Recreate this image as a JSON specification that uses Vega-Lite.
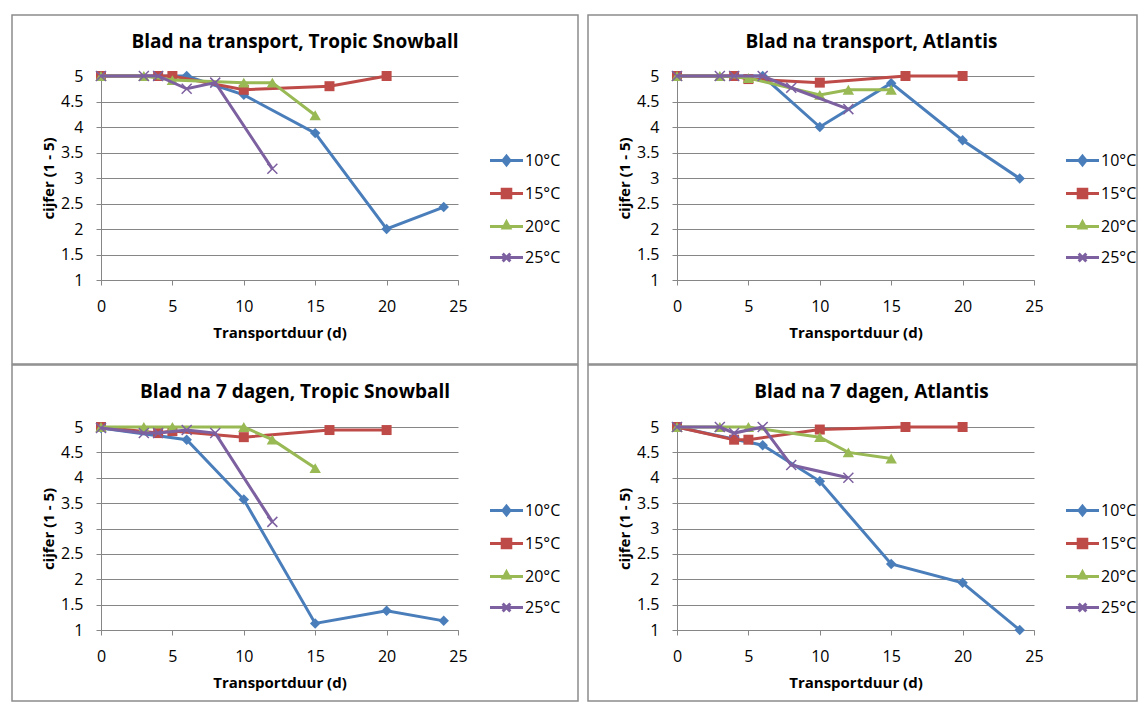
{
  "$schema": "https://vega.github.io/schema/vega-lite/v6.json",
  "background": "white",
  "padding": {"left": 11, "top": 14, "right": 0, "bottom": 0},
  "datasets": {
    "p1": [
      {"t": 0, "c": 5, "serie": "10°C"}, {"t": 6, "c": 5, "serie": "10°C"}, {"t": 10, "c": 4.63, "serie": "10°C"}, {"t": 15, "c": 3.88, "serie": "10°C"}, {"t": 20, "c": 2.0, "serie": "10°C"}, {"t": 24, "c": 2.43, "serie": "10°C"},
      {"t": 0, "c": 5, "serie": "15°C"}, {"t": 4, "c": 5, "serie": "15°C"}, {"t": 5, "c": 5, "serie": "15°C"}, {"t": 10, "c": 4.73, "serie": "15°C"}, {"t": 16, "c": 4.8, "serie": "15°C"}, {"t": 20, "c": 5, "serie": "15°C"},
      {"t": 0, "c": 5, "serie": "20°C"}, {"t": 3, "c": 5, "serie": "20°C"}, {"t": 5, "c": 4.92, "serie": "20°C"}, {"t": 10, "c": 4.87, "serie": "20°C"}, {"t": 12, "c": 4.87, "serie": "20°C"}, {"t": 15, "c": 4.23, "serie": "20°C"},
      {"t": 0, "c": 5, "serie": "25°C"}, {"t": 3, "c": 5, "serie": "25°C"}, {"t": 4, "c": 5, "serie": "25°C"}, {"t": 6, "c": 4.75, "serie": "25°C"}, {"t": 8, "c": 4.87, "serie": "25°C"}, {"t": 12, "c": 3.18, "serie": "25°C"}
    ],
    "p2": [
      {"t": 0, "c": 5, "serie": "10°C"}, {"t": 6, "c": 5, "serie": "10°C"}, {"t": 10, "c": 4.0, "serie": "10°C"}, {"t": 15, "c": 4.86, "serie": "10°C"}, {"t": 20, "c": 3.74, "serie": "10°C"}, {"t": 24, "c": 2.99, "serie": "10°C"},
      {"t": 0, "c": 5, "serie": "15°C"}, {"t": 4, "c": 5, "serie": "15°C"}, {"t": 5, "c": 4.94, "serie": "15°C"}, {"t": 10, "c": 4.87, "serie": "15°C"}, {"t": 16, "c": 5, "serie": "15°C"}, {"t": 20, "c": 5, "serie": "15°C"},
      {"t": 0, "c": 5, "serie": "20°C"}, {"t": 3, "c": 5, "serie": "20°C"}, {"t": 5, "c": 4.96, "serie": "20°C"}, {"t": 10, "c": 4.63, "serie": "20°C"}, {"t": 12, "c": 4.73, "serie": "20°C"}, {"t": 15, "c": 4.73, "serie": "20°C"},
      {"t": 0, "c": 5, "serie": "25°C"}, {"t": 3, "c": 5, "serie": "25°C"}, {"t": 4, "c": 5, "serie": "25°C"}, {"t": 6, "c": 5, "serie": "25°C"}, {"t": 8, "c": 4.77, "serie": "25°C"}, {"t": 12, "c": 4.35, "serie": "25°C"}
    ],
    "p3": [
      {"t": 0, "c": 4.98, "serie": "10°C"}, {"t": 6, "c": 4.75, "serie": "10°C"}, {"t": 10, "c": 3.57, "serie": "10°C"}, {"t": 15, "c": 1.13, "serie": "10°C"}, {"t": 20, "c": 1.38, "serie": "10°C"}, {"t": 24, "c": 1.18, "serie": "10°C"},
      {"t": 0, "c": 5, "serie": "15°C"}, {"t": 4, "c": 4.88, "serie": "15°C"}, {"t": 5, "c": 4.92, "serie": "15°C"}, {"t": 10, "c": 4.8, "serie": "15°C"}, {"t": 16, "c": 4.94, "serie": "15°C"}, {"t": 20, "c": 4.94, "serie": "15°C"},
      {"t": 0, "c": 5, "serie": "20°C"}, {"t": 3, "c": 5, "serie": "20°C"}, {"t": 5, "c": 5, "serie": "20°C"}, {"t": 10, "c": 5, "serie": "20°C"}, {"t": 12, "c": 4.75, "serie": "20°C"}, {"t": 15, "c": 4.19, "serie": "20°C"},
      {"t": 0, "c": 4.98, "serie": "25°C"}, {"t": 3, "c": 4.88, "serie": "25°C"}, {"t": 4, "c": 4.88, "serie": "25°C"}, {"t": 6, "c": 4.94, "serie": "25°C"}, {"t": 8, "c": 4.88, "serie": "25°C"}, {"t": 12, "c": 3.13, "serie": "25°C"}
    ],
    "p4": [
      {"t": 0, "c": 5, "serie": "10°C"}, {"t": 6, "c": 4.64, "serie": "10°C"}, {"t": 10, "c": 3.93, "serie": "10°C"}, {"t": 15, "c": 2.3, "serie": "10°C"}, {"t": 20, "c": 1.93, "serie": "10°C"}, {"t": 24, "c": 1.0, "serie": "10°C"},
      {"t": 0, "c": 5, "serie": "15°C"}, {"t": 4, "c": 4.75, "serie": "15°C"}, {"t": 5, "c": 4.75, "serie": "15°C"}, {"t": 10, "c": 4.95, "serie": "15°C"}, {"t": 16, "c": 5, "serie": "15°C"}, {"t": 20, "c": 5, "serie": "15°C"},
      {"t": 0, "c": 5, "serie": "20°C"}, {"t": 3, "c": 5, "serie": "20°C"}, {"t": 5, "c": 5, "serie": "20°C"}, {"t": 10, "c": 4.8, "serie": "20°C"}, {"t": 12, "c": 4.5, "serie": "20°C"}, {"t": 15, "c": 4.38, "serie": "20°C"},
      {"t": 0, "c": 5, "serie": "25°C"}, {"t": 3, "c": 5, "serie": "25°C"}, {"t": 4, "c": 4.88, "serie": "25°C"}, {"t": 6, "c": 5, "serie": "25°C"}, {"t": 8, "c": 4.25, "serie": "25°C"}, {"t": 12, "c": 4.0, "serie": "25°C"}
    ]
  },
  "columns": 2,
  "spacing": {"row": -1, "column": 8},
  "align": "each",
  "resolve": {
    "scale": {"fill": "independent", "stroke": "independent", "shape": "independent"},
    "legend": {"fill": "independent", "stroke": "independent", "shape": "independent"}
  },
  "concat": [
    {
      "width": 566, "height": 349,
      "title": {"text": "Blad na transport, Tropic Snowball"},
      "data": {"name": "p1"},
      "encoding": {
        "x": {"field": "t", "type": "quantitative", "scale": {"domain": [0, 25], "range": [89, 446], "nice": false, "zero": false},
          "axis": {"values": [0, 5, 10, 15, 20, 25], "grid": false, "offset": -84, "title": "Transportduur (d)", "titleX": 267.5, "titleY": 52, "titleBaseline": "middle", "titleAlign": "center"}},
        "y": {"field": "c", "type": "quantitative", "scale": {"domain": [1, 5], "range": [265, 61], "nice": false, "zero": false},
          "axis": {"values": [1, 1.5, 2, 2.5, 3, 3.5, 4, 4.5, 5], "format": "~g", "grid": true, "offset": -89, "title": "cijfer (1 - 5)", "titleX": -53, "titleY": 163, "titleAngle": -90, "titleBaseline": "middle", "titleAlign": "center"}}
      },
      "layer": [
        {"transform": [{"filter": {"field": "serie", "equal": "10°C"}}], "mark": {"type": "line", "color": "#4A7EBB", "strokeWidth": 3, "point": {"shape": "diamond", "size": 110, "filled": true, "color": "#4A7EBB", "opacity": 1}}},
        {"transform": [{"filter": {"field": "serie", "equal": "15°C"}}], "mark": {"type": "line", "color": "#BE4B48", "strokeWidth": 3, "point": {"shape": "square", "size": 100, "filled": true, "color": "#BE4B48", "opacity": 1}}},
        {"transform": [{"filter": {"field": "serie", "equal": "20°C"}}], "mark": {"type": "line", "color": "#98B954", "strokeWidth": 3, "point": {"shape": "triangle-up", "size": 130, "filled": true, "color": "#98B954", "opacity": 1}}},
        {"transform": [{"filter": {"field": "serie", "equal": "25°C"}}], "mark": {"type": "line", "color": "#7D60A0", "strokeWidth": 3, "point": {"shape": "M-1,-1L1,1M-1,1L1,-1", "size": 100, "filled": false, "strokeWidth": 1.5, "color": "#7D60A0", "opacity": 1}}},
        {"transform": [{"filter": "false"}], "mark": {"type": "point", "filled": true, "opacity": 1, "size": 484, "strokeWidth": 3},
          "encoding": {
            "fill": {"field": "serie", "type": "nominal", "scale": {"domain": ["10°C", "15°C", "20°C", "25°C"], "range": ["#4A7EBB", "#BE4B48", "#98B954", "#7D60A0"]}, "legend": {"title": null, "orient": "none", "legendX": 482, "legendY": 133}},
            "stroke": {"field": "serie", "type": "nominal", "scale": {"domain": ["10°C", "15°C", "20°C", "25°C"], "range": ["#4A7EBB", "#BE4B48", "#98B954", "#7D60A0"]}, "legend": {"title": null, "orient": "none", "legendX": 482, "legendY": 133}},
            "shape": {"field": "serie", "type": "nominal", "scale": {"domain": ["10°C", "15°C", "20°C", "25°C"], "range": ["M-1.5,0L1.5,0M0,-0.39L0.32,0L0,0.39L-0.32,0Z", "M-1.5,0L1.5,0M-0.39,-0.39L0.39,-0.39L0.39,0.39L-0.39,0.39Z", "M-1.5,0L1.5,0M0,-0.41L0.3,0.14L-0.3,0.14Z", "M-1.5,0L1.5,0M-0.35,-0.35L0.35,0.35M-0.35,0.35L0.35,-0.35"]}, "legend": {"title": null, "orient": "none", "legendX": 482, "legendY": 133}}
          }}
      ]
    },
    {
      "width": 549, "height": 349,
      "title": {"text": "Blad na transport, Atlantis", "dx": 9},
      "data": {"name": "p2"},
      "encoding": {
        "x": {"field": "t", "type": "quantitative", "scale": {"domain": [0, 25], "range": [89, 446], "nice": false, "zero": false},
          "axis": {"values": [0, 5, 10, 15, 20, 25], "grid": false, "offset": -84, "title": "Transportduur (d)", "titleX": 267.5, "titleY": 52, "titleBaseline": "middle", "titleAlign": "center"}},
        "y": {"field": "c", "type": "quantitative", "scale": {"domain": [1, 5], "range": [265, 61], "nice": false, "zero": false},
          "axis": {"values": [1, 1.5, 2, 2.5, 3, 3.5, 4, 4.5, 5], "format": "~g", "grid": true, "offset": -89, "title": "cijfer (1 - 5)", "titleX": -53, "titleY": 163, "titleAngle": -90, "titleBaseline": "middle", "titleAlign": "center"}}
      },
      "layer": [
        {"transform": [{"filter": {"field": "serie", "equal": "10°C"}}], "mark": {"type": "line", "color": "#4A7EBB", "strokeWidth": 3, "point": {"shape": "diamond", "size": 110, "filled": true, "color": "#4A7EBB", "opacity": 1}}},
        {"transform": [{"filter": {"field": "serie", "equal": "15°C"}}], "mark": {"type": "line", "color": "#BE4B48", "strokeWidth": 3, "point": {"shape": "square", "size": 100, "filled": true, "color": "#BE4B48", "opacity": 1}}},
        {"transform": [{"filter": {"field": "serie", "equal": "20°C"}}], "mark": {"type": "line", "color": "#98B954", "strokeWidth": 3, "point": {"shape": "triangle-up", "size": 130, "filled": true, "color": "#98B954", "opacity": 1}}},
        {"transform": [{"filter": {"field": "serie", "equal": "25°C"}}], "mark": {"type": "line", "color": "#7D60A0", "strokeWidth": 3, "point": {"shape": "M-1,-1L1,1M-1,1L1,-1", "size": 100, "filled": false, "strokeWidth": 1.5, "color": "#7D60A0", "opacity": 1}}},
        {"transform": [{"filter": "false"}], "mark": {"type": "point", "filled": true, "opacity": 1, "size": 484, "strokeWidth": 3},
          "encoding": {
            "fill": {"field": "serie", "type": "nominal", "scale": {"domain": ["10°C", "15°C", "20°C", "25°C"], "range": ["#4A7EBB", "#BE4B48", "#98B954", "#7D60A0"]}, "legend": {"title": null, "orient": "none", "legendX": 482, "legendY": 133}},
            "stroke": {"field": "serie", "type": "nominal", "scale": {"domain": ["10°C", "15°C", "20°C", "25°C"], "range": ["#4A7EBB", "#BE4B48", "#98B954", "#7D60A0"]}, "legend": {"title": null, "orient": "none", "legendX": 482, "legendY": 133}},
            "shape": {"field": "serie", "type": "nominal", "scale": {"domain": ["10°C", "15°C", "20°C", "25°C"], "range": ["M-1.5,0L1.5,0M0,-0.39L0.32,0L0,0.39L-0.32,0Z", "M-1.5,0L1.5,0M-0.39,-0.39L0.39,-0.39L0.39,0.39L-0.39,0.39Z", "M-1.5,0L1.5,0M0,-0.41L0.3,0.14L-0.3,0.14Z", "M-1.5,0L1.5,0M-0.35,-0.35L0.35,0.35M-0.35,0.35L0.35,-0.35"]}, "legend": {"title": null, "orient": "none", "legendX": 482, "legendY": 133}}
          }}
      ]
    },
    {
      "width": 566, "height": 336,
      "title": {"text": "Blad na 7 dagen, Tropic Snowball"},
      "data": {"name": "p3"},
      "encoding": {
        "x": {"field": "t", "type": "quantitative", "scale": {"domain": [0, 25], "range": [89, 446], "nice": false, "zero": false},
          "axis": {"values": [0, 5, 10, 15, 20, 25], "grid": false, "offset": -71, "title": "Transportduur (d)", "titleX": 267.5, "titleY": 52, "titleBaseline": "middle", "titleAlign": "center"}},
        "y": {"field": "c", "type": "quantitative", "scale": {"domain": [1, 5], "range": [265, 62], "nice": false, "zero": false},
          "axis": {"values": [1, 1.5, 2, 2.5, 3, 3.5, 4, 4.5, 5], "format": "~g", "grid": true, "offset": -89, "title": "cijfer (1 - 5)", "titleX": -53, "titleY": 163.5, "titleAngle": -90, "titleBaseline": "middle", "titleAlign": "center"}}
      },
      "layer": [
        {"transform": [{"filter": {"field": "serie", "equal": "10°C"}}], "mark": {"type": "line", "color": "#4A7EBB", "strokeWidth": 3, "point": {"shape": "diamond", "size": 110, "filled": true, "color": "#4A7EBB", "opacity": 1}}},
        {"transform": [{"filter": {"field": "serie", "equal": "15°C"}}], "mark": {"type": "line", "color": "#BE4B48", "strokeWidth": 3, "point": {"shape": "square", "size": 100, "filled": true, "color": "#BE4B48", "opacity": 1}}},
        {"transform": [{"filter": {"field": "serie", "equal": "20°C"}}], "mark": {"type": "line", "color": "#98B954", "strokeWidth": 3, "point": {"shape": "triangle-up", "size": 130, "filled": true, "color": "#98B954", "opacity": 1}}},
        {"transform": [{"filter": {"field": "serie", "equal": "25°C"}}], "mark": {"type": "line", "color": "#7D60A0", "strokeWidth": 3, "point": {"shape": "M-1,-1L1,1M-1,1L1,-1", "size": 100, "filled": false, "strokeWidth": 1.5, "color": "#7D60A0", "opacity": 1}}},
        {"transform": [{"filter": "false"}], "mark": {"type": "point", "filled": true, "opacity": 1, "size": 484, "strokeWidth": 3},
          "encoding": {
            "fill": {"field": "serie", "type": "nominal", "scale": {"domain": ["10°C", "15°C", "20°C", "25°C"], "range": ["#4A7EBB", "#BE4B48", "#98B954", "#7D60A0"]}, "legend": {"title": null, "orient": "none", "legendX": 482, "legendY": 133}},
            "stroke": {"field": "serie", "type": "nominal", "scale": {"domain": ["10°C", "15°C", "20°C", "25°C"], "range": ["#4A7EBB", "#BE4B48", "#98B954", "#7D60A0"]}, "legend": {"title": null, "orient": "none", "legendX": 482, "legendY": 133}},
            "shape": {"field": "serie", "type": "nominal", "scale": {"domain": ["10°C", "15°C", "20°C", "25°C"], "range": ["M-1.5,0L1.5,0M0,-0.39L0.32,0L0,0.39L-0.32,0Z", "M-1.5,0L1.5,0M-0.39,-0.39L0.39,-0.39L0.39,0.39L-0.39,0.39Z", "M-1.5,0L1.5,0M0,-0.41L0.3,0.14L-0.3,0.14Z", "M-1.5,0L1.5,0M-0.35,-0.35L0.35,0.35M-0.35,0.35L0.35,-0.35"]}, "legend": {"title": null, "orient": "none", "legendX": 482, "legendY": 133}}
          }}
      ]
    },
    {
      "width": 549, "height": 336,
      "title": {"text": "Blad na 7 dagen, Atlantis", "dx": 9},
      "data": {"name": "p4"},
      "encoding": {
        "x": {"field": "t", "type": "quantitative", "scale": {"domain": [0, 25], "range": [89, 446], "nice": false, "zero": false},
          "axis": {"values": [0, 5, 10, 15, 20, 25], "grid": false, "offset": -71, "title": "Transportduur (d)", "titleX": 267.5, "titleY": 52, "titleBaseline": "middle", "titleAlign": "center"}},
        "y": {"field": "c", "type": "quantitative", "scale": {"domain": [1, 5], "range": [265, 62], "nice": false, "zero": false},
          "axis": {"values": [1, 1.5, 2, 2.5, 3, 3.5, 4, 4.5, 5], "format": "~g", "grid": true, "offset": -89, "title": "cijfer (1 - 5)", "titleX": -53, "titleY": 163.5, "titleAngle": -90, "titleBaseline": "middle", "titleAlign": "center"}}
      },
      "layer": [
        {"transform": [{"filter": {"field": "serie", "equal": "10°C"}}], "mark": {"type": "line", "color": "#4A7EBB", "strokeWidth": 3, "point": {"shape": "diamond", "size": 110, "filled": true, "color": "#4A7EBB", "opacity": 1}}},
        {"transform": [{"filter": {"field": "serie", "equal": "15°C"}}], "mark": {"type": "line", "color": "#BE4B48", "strokeWidth": 3, "point": {"shape": "square", "size": 100, "filled": true, "color": "#BE4B48", "opacity": 1}}},
        {"transform": [{"filter": {"field": "serie", "equal": "20°C"}}], "mark": {"type": "line", "color": "#98B954", "strokeWidth": 3, "point": {"shape": "triangle-up", "size": 130, "filled": true, "color": "#98B954", "opacity": 1}}},
        {"transform": [{"filter": {"field": "serie", "equal": "25°C"}}], "mark": {"type": "line", "color": "#7D60A0", "strokeWidth": 3, "point": {"shape": "M-1,-1L1,1M-1,1L1,-1", "size": 100, "filled": false, "strokeWidth": 1.5, "color": "#7D60A0", "opacity": 1}}},
        {"transform": [{"filter": "false"}], "mark": {"type": "point", "filled": true, "opacity": 1, "size": 484, "strokeWidth": 3},
          "encoding": {
            "fill": {"field": "serie", "type": "nominal", "scale": {"domain": ["10°C", "15°C", "20°C", "25°C"], "range": ["#4A7EBB", "#BE4B48", "#98B954", "#7D60A0"]}, "legend": {"title": null, "orient": "none", "legendX": 482, "legendY": 133}},
            "stroke": {"field": "serie", "type": "nominal", "scale": {"domain": ["10°C", "15°C", "20°C", "25°C"], "range": ["#4A7EBB", "#BE4B48", "#98B954", "#7D60A0"]}, "legend": {"title": null, "orient": "none", "legendX": 482, "legendY": 133}},
            "shape": {"field": "serie", "type": "nominal", "scale": {"domain": ["10°C", "15°C", "20°C", "25°C"], "range": ["M-1.5,0L1.5,0M0,-0.39L0.32,0L0,0.39L-0.32,0Z", "M-1.5,0L1.5,0M-0.39,-0.39L0.39,-0.39L0.39,0.39L-0.39,0.39Z", "M-1.5,0L1.5,0M0,-0.41L0.3,0.14L-0.3,0.14Z", "M-1.5,0L1.5,0M-0.35,-0.35L0.35,0.35M-0.35,0.35L0.35,-0.35"]}, "legend": {"title": null, "orient": "none", "legendX": 482, "legendY": 133}}
          }}
      ]
    }
  ],
  "config": {
    "font": "Open Sans",
    "view": {"stroke": "#8C8C8C", "strokeWidth": 1.5},
    "title": {"fontSize": 19, "fontWeight": "bold", "color": "#000000", "anchor": "middle", "frame": "group", "offset": -37, "baseline": "alphabetic"},
    "axis": {
      "domainColor": "#868686", "domainWidth": 1,
      "tickColor": "#868686", "tickSize": 5, "tickWidth": 1,
      "gridColor": "#868686", "gridWidth": 1,
      "labelFont": "Open Sans", "labelFontSize": 16, "labelColor": "#000000", "labelPadding": 13,
      "labelFlush": false, "labelOverlap": false, "labelBound": false,
      "titleFont": "Open Sans", "titleFontSize": 15, "titleFontWeight": "bold", "titleColor": "#000000"
    },
    "legend": {
      "padding": 0, "symbolSize": 484, "symbolStrokeWidth": 3,
      "labelFont": "Open Sans", "labelFontSize": 16, "labelColor": "#000000", "labelOffset": 6,
      "rowPadding": 10
    }
  }
}
